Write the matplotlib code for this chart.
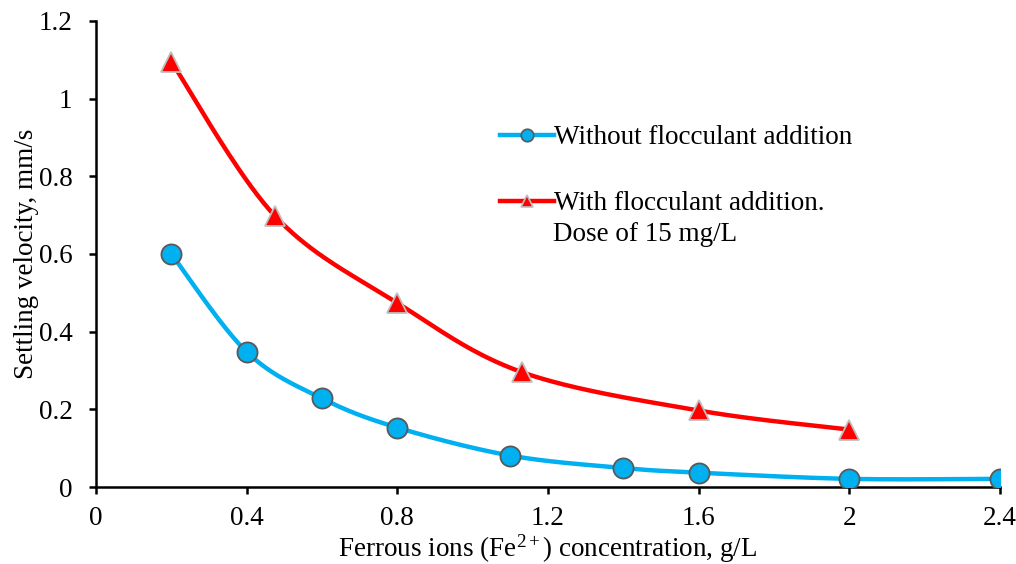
import numpy as np
import matplotlib
matplotlib.use("Agg")
import matplotlib.pyplot as plt
from matplotlib.lines import Line2D

plt.rcParams['font.family'] = ['Liberation Serif', 'DejaVu Serif']
plt.rcParams['mathtext.fontset'] = 'custom'
plt.rcParams['mathtext.rm'] = 'Liberation Serif'
plt.rcParams['mathtext.it'] = 'Liberation Serif:italic'
plt.rcParams['mathtext.bf'] = 'Liberation Serif:bold'

#: data
x_without = [0.2, 0.4, 0.6, 0.8, 1.1, 1.4, 1.6, 2.0, 2.4]
y_without = [0.6, 0.348, 0.228, 0.153, 0.081, 0.049, 0.037, 0.021, 0.021]

x_with = [0.2, 0.475, 0.8, 1.13, 1.6, 2.0]
y_with = [1.095, 0.698, 0.474, 0.296, 0.197, 0.148]

label_without = "Without flocculant addition"
label_with = "With flocculant addition."
label_with_dose = "Dose of 15 mg/L"

xticks = [0, 0.4, 0.8, 1.2, 1.6, 2, 2.4]
yticks = [0, 0.2, 0.4, 0.6, 0.8, 1, 1.2]

blue = "#00B0F0"
red = "#FF0000"
fs = 19.5


def smooth(xs, ys, n=40, sx=2.4, sy=1.2):
    #, Excel-like smoothing (Catmull-Rom through the points)
    p = np.column_stack([np.array(xs) / sx, np.array(ys) / sy])
    p = np.vstack([p[0], p, p[-1]])
    out = []
    for i in range(1, len(p) - 2):
        p0, p1, p2, p3 = p[i - 1], p[i], p[i + 1], p[i + 2]
        c1 = p1 + (p2 - p0) / 6
        c2 = p2 - (p3 - p1) / 6
        t = np.linspace(0, 1, n)[:, None]
        seg = ((1 - t) ** 3) * p1 + 3 * ((1 - t) ** 2) * t * c1 + 3 * (1 - t) * t ** 2 * c2 + t ** 3 * p2
        out.append(seg)
    out = np.vstack(out)
    return out[:, 0] * sx, out[:, 1] * sy


fig = plt.figure(figsize=(10.16, 5.64), dpi=100)
ax = fig.add_axes([0.0945, 0.1365, 0.8895, 0.8265])

sx, sy = smooth(x_without, y_without)
ax.plot(sx, sy, color=blue, lw=3.2, solid_capstyle='round', zorder=2)
ax.plot(x_without, y_without, 'o', ms=14.5, mfc=blue, mec="#595959", mew=1.3, zorder=3)

sx, sy = smooth(x_with, y_with)
ax.plot(sx, sy, color=red, lw=3.2, solid_capstyle='round', zorder=2)
ax.plot(x_with, y_with, '^', ms=14, mfc=red, mec="#BFBFBF", mew=1.3, zorder=3)

ax.set_xlim(0, 2.4)
ax.set_ylim(0, 1.2)
ax.set_xticks(xticks)
ax.set_xticklabels([f"{v:g}" for v in xticks])
ax.set_yticks(yticks)
ax.set_yticklabels([f"{v:g}" for v in yticks])

for s in ['top', 'right']:
    ax.spines[s].set_visible(False)
for s in ['left', 'bottom']:
    ax.spines[s].set_linewidth(1.8)
ax.tick_params(direction='out', length=5, width=1.8, labelsize=fs)
ax.tick_params(axis='x', pad=9)
ax.tick_params(axis='y', pad=12)

ax.set_xlabel("Ferrous ions (Fe$^{2+}$) concentration, g/L", fontsize=fs, labelpad=1)
ax.set_ylabel("Settling velocity, mm/s", fontsize=fs, labelpad=0)

handles = [
    Line2D([], [], color=blue, lw=3.2, marker='o', ms=9, mfc=blue, mec="#595959", mew=1.2),
    Line2D([], [], color=red, lw=3.2, marker='^', ms=9, mfc=red, mec="#BFBFBF", mew=1.2),
]
ax.legend(handles, [label_without, label_with], loc='upper left',
          bbox_to_anchor=(0.42, 0.828), frameon=False, fontsize=fs,
          handlelength=2.0, handletextpad=0.0, labelspacing=1.5)
#: second line of the red legend entry sits under its first line
ax.text(0.5055, 0.541, label_with_dose, transform=ax.transAxes,
        fontsize=fs, ha='left', va='center')

fig.savefig("out.png", dpi=100)
